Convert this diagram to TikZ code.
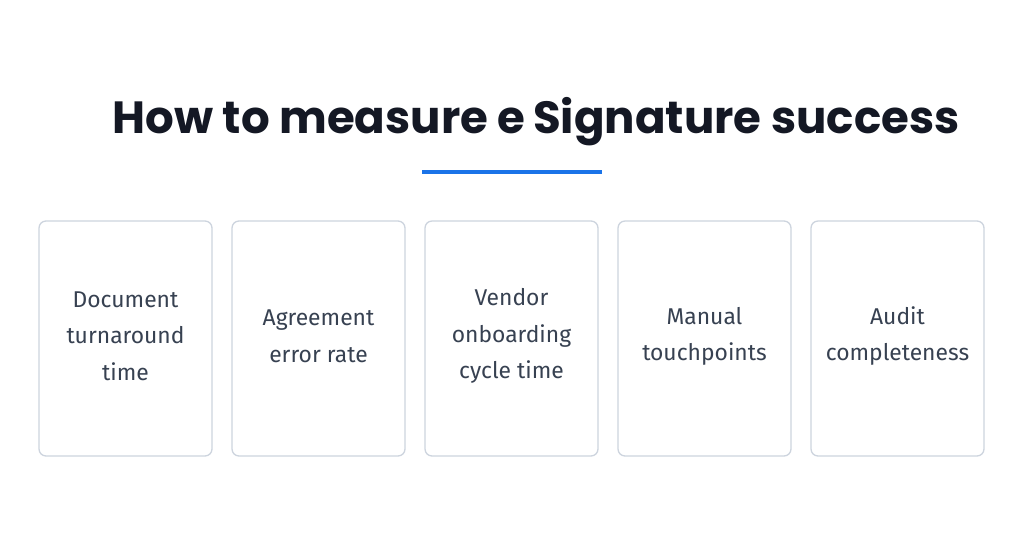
\documentclass[tikz,border=0pt]{standalone}
\usepackage{fontspec}
\setmainfont{Fira Sans}
\newfontfamily\titlefont{Poppins}
\usetikzlibrary{positioning}
\definecolor{inkdark}{RGB}{20,24,36}
\definecolor{slate}{RGB}{55,65,81}
\definecolor{accent}{RGB}{26,115,232}
\definecolor{boxline}{RGB}{205,212,222}
\begin{document}
\begin{tikzpicture}[x=0.03cm,y=-0.03cm,
  metric/.style={draw=boxline,line width=1.1pt,rounded corners=6pt,minimum width=173*0.03cm,minimum height=235*0.03cm,inner sep=0pt},
  metrictext/.style={align=center,text=slate,font=\fontsize{19.5}{31}\selectfont},
  heading/.style={text=inkdark,font=\titlefont\fontsize{38.5}{44}\selectfont\bfseries}]
\useasboundingbox[fill=white] (0,0) rectangle (1024,536);
% title
\node[heading] (title) at (536,122) {How to measure e\,Signature success};
\draw[accent,line width=4pt] (422,172) -- (602,172);
% metric boxes
\node[metric] (turnaround) at (125.5,338.5) {};
\node[metric] (errors) at (318.5,338.5) {};
\node[metric] (vendor) at (511.5,338.5) {};
\node[metric] (manual) at (704.5,338.5) {};
\node[metric] (audit) at (897.5,338.5) {};
\node[metrictext] at ([yshift=2pt]turnaround.center) {Document\\turnaround\\time};
\node[metrictext] at ([yshift=2pt]errors.center) {Agreement\\error rate};
\node[metrictext] at ([yshift=2pt]vendor.center) {Vendor\\onboarding\\cycle time};
\node[metrictext] at ([yshift=2pt]manual.center) {Manual\\touchpoints};
\node[metrictext] at ([yshift=2pt]audit.center) {Audit\\completeness};
\end{tikzpicture}
\end{document}
